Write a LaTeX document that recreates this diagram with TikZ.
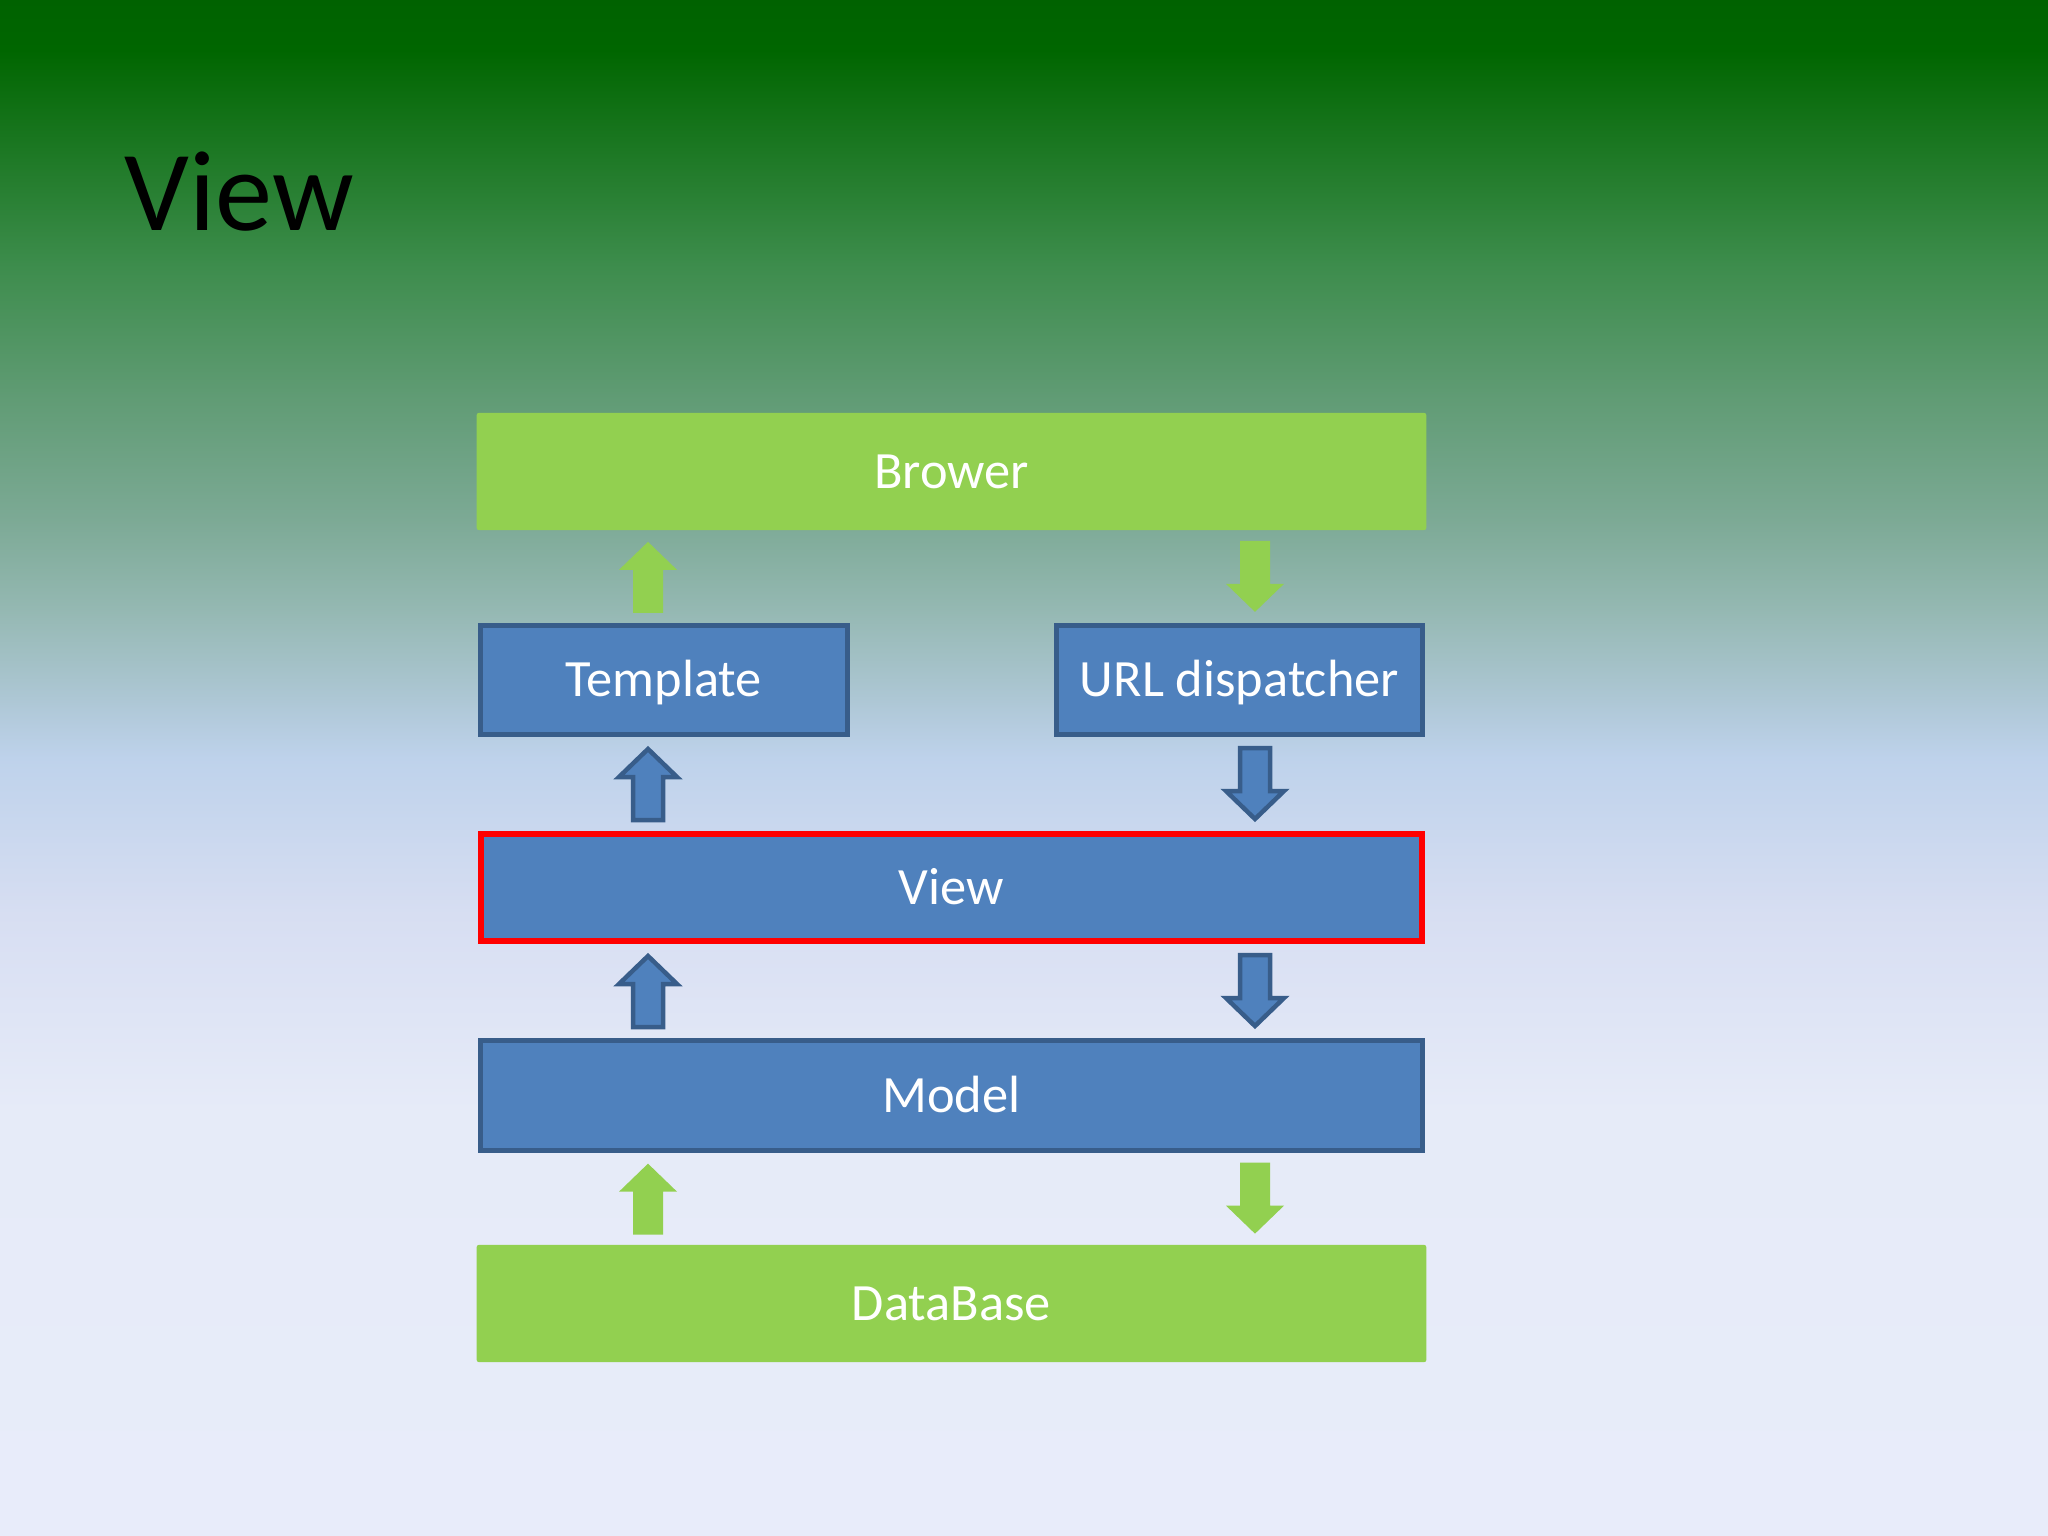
\documentclass[tikz,border=0pt]{standalone}
\usepackage{fontspec}
\setmainfont{Carlito}
\usetikzlibrary{calc}
\definecolor{c0}{RGB}{0,98,0}
\definecolor{c1}{RGB}{0,102,0}
\definecolor{c2}{RGB}{60,140,75}
\definecolor{c3}{RGB}{95,155,115}
\definecolor{c4}{RGB}{125,170,150}
\definecolor{c5}{RGB}{150,185,180}
\definecolor{c6}{RGB}{175,200,215}
\definecolor{c7}{RGB}{190,210,235}
\definecolor{c8}{RGB}{215,222,242}
\definecolor{c9}{RGB}{230,235,248}
\definecolor{c10}{RGB}{232,236,250}
\definecolor{lgreen}{RGB}{146,208,80}
\definecolor{mblue}{RGB}{79,129,189}
\definecolor{dblue}{RGB}{56,93,138}
\begin{document}
\begin{tikzpicture}[x=0.01cm,y=-0.01cm,
  boxtext/.style={text=white,font=\fontsize{14.9pt}{17pt}\selectfont,text height=0.337cm,text depth=0pt,inner sep=0pt},
  greenbox/.style={boxtext,fill=lgreen,rounded corners=0.02cm},
  bluebox/.style={boxtext,fill=mblue,draw=dblue,line width=0.05cm},
  viewbox/.style={boxtext,fill=mblue,draw=red,line width=0.06cm},
  greenarrow/.style={fill=lgreen},
  bluearrow/.style={fill=mblue,draw=dblue,line width=0.045cm,line join=miter},
  uparr/.pic={\path[pic actions] (-15,36) -- (15,36) -- (15,-7) -- (29,-7) -- (0,-35) -- (-29,-7) -- (-15,-7) -- cycle;},
  downarr/.pic={\path[pic actions] (-15,-36) -- (15,-36) -- (15,7) -- (29,7) -- (0,35) -- (-29,7) -- (-15,7) -- cycle;}
]
\useasboundingbox (0,0) rectangle (2048,1536);
% background gradient
\shade[top color=c0,bottom color=c1] (0,-1) rectangle (2048,51);
\shade[top color=c1,bottom color=c2] (0,50) rectangle (2048,262);
\shade[top color=c2,bottom color=c3] (0,261) rectangle (2048,393);
\shade[top color=c3,bottom color=c4] (0,392) rectangle (2048,523);
\shade[top color=c4,bottom color=c5] (0,522) rectangle (2048,615);
\shade[top color=c5,bottom color=c6] (0,614) rectangle (2048,706);
\shade[top color=c6,bottom color=c7] (0,705) rectangle (2048,758);
\shade[top color=c7,bottom color=c8] (0,757) rectangle (2048,915);
\shade[top color=c8,bottom color=c9] (0,914) rectangle (2048,1111);
\shade[top color=c9,bottom color=c10] (0,1110) rectangle (2048,1537);
% title
\node[anchor=base west,inner sep=0pt,font=\fontsize{32.5pt}{38pt}\selectfont] (title) at (124,230) {View};
% boxes
\node[greenbox,minimum width=9.49cm,minimum height=1.17cm] (brow) at (951.5,471.5) {Brower};
\node[bluebox,minimum width=3.67cm,minimum height=1.09cm] (tpl) at (664,680) {Template};
\node[bluebox,minimum width=3.66cm,minimum height=1.09cm] (url) at (1239.5,680) {URL dispatcher};
\node[viewbox,minimum width=9.41cm,minimum height=1.07cm] (view) at (951.5,887.5) {View};
\node[bluebox,minimum width=9.42cm,minimum height=1.10cm] (model) at (951.5,1095.5) {Model};
\node[greenbox,minimum width=9.49cm,minimum height=1.17cm] (db) at (951.5,1303.5) {DataBase};
% arrow positions
\coordinate (lx) at (648,0);
\coordinate (rx) at (1255,0);
\coordinate (m1) at ($(brow.south)!0.5!(tpl.north)$);
\coordinate (m2) at ($(tpl.south)!0.5!(view.north)$);
\coordinate (m3) at ($(view.south)!0.5!(model.north)$);
\coordinate (m4) at ($(model.south)!0.5!(db.north)$);
\pic[greenarrow] at (lx |- m1) {uparr};
\pic[greenarrow] at (rx |- m1) {downarr};
\pic[bluearrow] at (lx |- m2) {uparr};
\pic[bluearrow] at (rx |- m2) {downarr};
\pic[bluearrow] at (lx |- m3) {uparr};
\pic[bluearrow] at (rx |- m3) {downarr};
\pic[greenarrow] at (lx |- m4) {uparr};
\pic[greenarrow] at (rx |- m4) {downarr};
\end{tikzpicture}
\end{document}
